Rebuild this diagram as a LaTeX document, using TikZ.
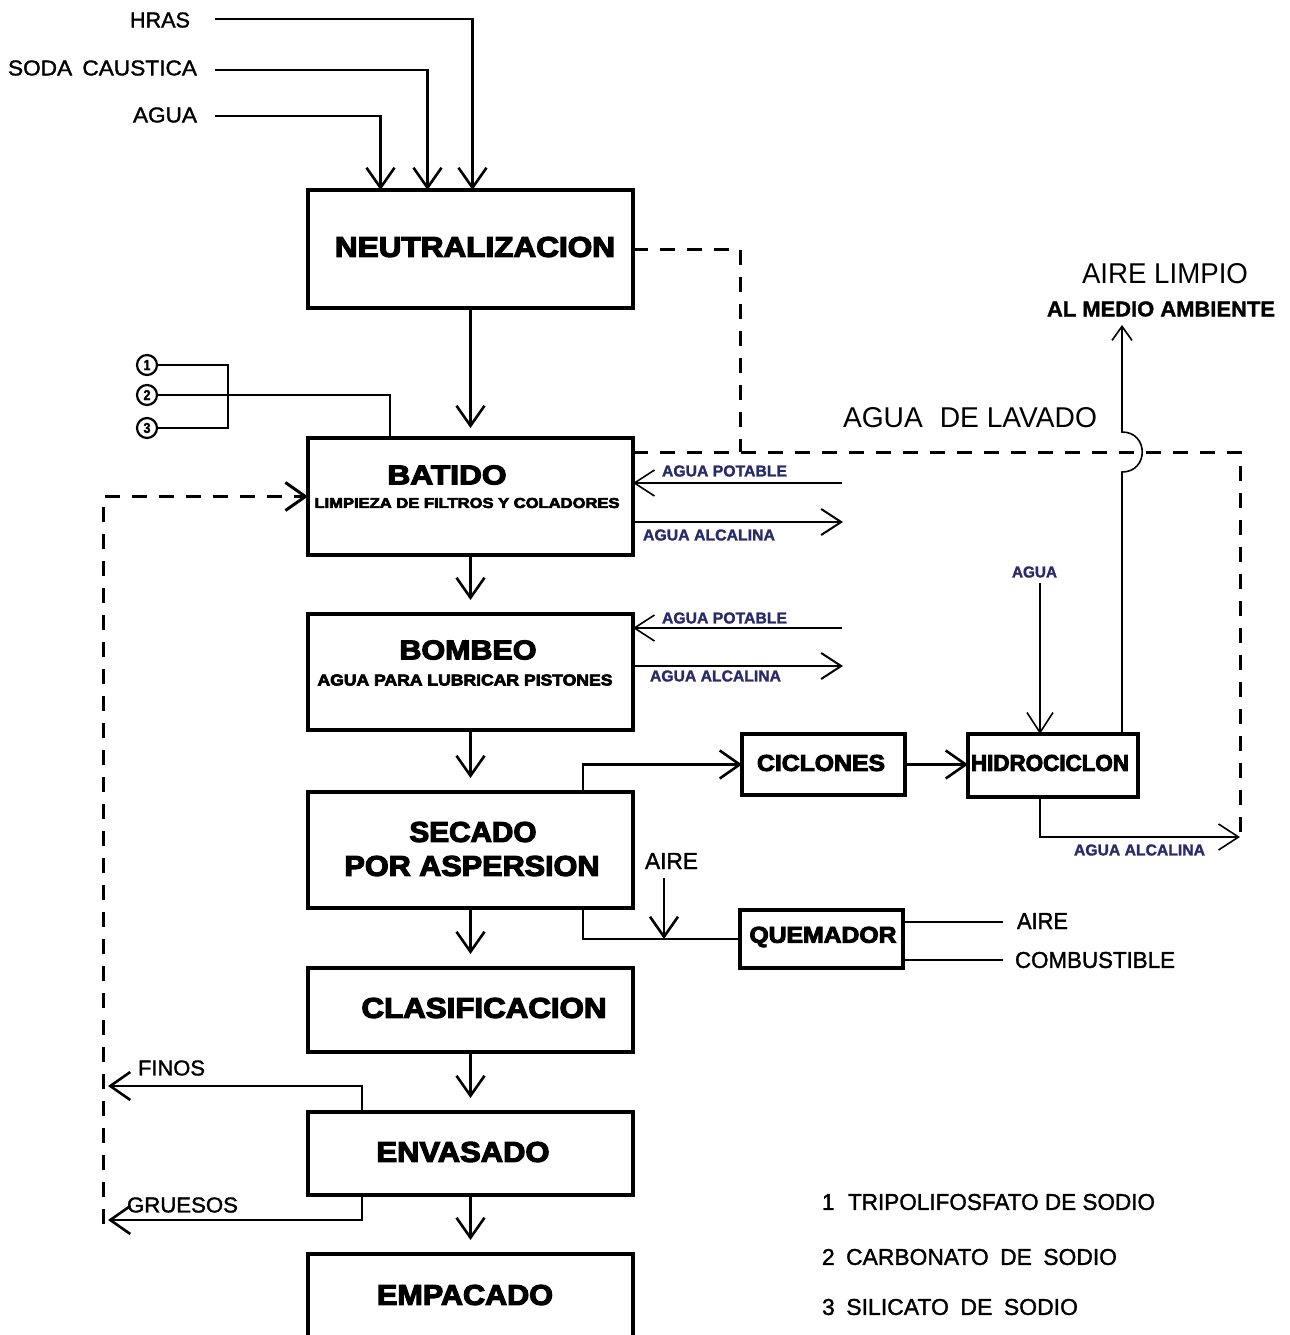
\documentclass[tikz,border=0pt]{standalone}
\usepackage{fontspec}
\setmainfont{Liberation Sans}
\newfontfamily\heavy{Liberation Sans Bold}[FakeBold=4]
\newfontfamily\bsans{Liberation Sans Bold}[FakeBold=1.5]
\newfontfamily\med{Liberation Sans}[FakeBold=1.5]
\usetikzlibrary{arrows.meta,calc}
\definecolor{navy}{RGB}{40,42,105}
\newcommand{\fitpx}[3]{\resizebox{\dimexpr #1pt/2\relax}{\dimexpr #2pt/2\relax}{#3}}
\begin{document}
\begin{tikzpicture}[x=0.5pt,y=-0.5pt,
  box/.style={draw, line width=1.6pt, inner sep=0pt, outer sep=0pt},
  txt/.style={inner sep=0pt, outer sep=0pt},
  lbl/.style={inner sep=0pt, outer sep=0pt, anchor=west},
  nlbl/.style={inner sep=0pt, outer sep=0pt, anchor=west, text=navy},
  link/.style={line width=1.3pt},
  conn/.style={line width=1.3pt, -{Straight Barb[length=10pt,width=14pt]}},
  thinarr/.style={line width=0.8pt, -{Straight Barb[length=10pt,width=13pt]}},
  smallarr/.style={line width=0.8pt, -{Straight Barb[length=7pt,width=10pt]}},
  dsh/.style={line width=1.5pt, dash pattern=on 7.5pt off 6pt},
  numc/.style={circle, draw, line width=1.1pt, minimum size=10pt, inner sep=0pt, outer sep=0pt}]
\useasboundingbox (0,0) rectangle (1290,1335);
\fill[white] (0,0) rectangle (1290,1335);

% ---------- boxes ----------
\node[box, minimum width=162.5pt, minimum height=59pt]   (neu) at (470.5,249) {};
\node[box, minimum width=162.5pt, minimum height=58.5pt] (bat) at (470.5,496.5) {};
\node[box, minimum width=162.5pt, minimum height=58pt]   (bom) at (470.5,672) {};
\node[box, minimum width=162.5pt, minimum height=58pt]   (sec) at (470.5,850) {};
\node[box, minimum width=162.5pt, minimum height=42pt]   (cla) at (470.5,1010) {};
\node[box, minimum width=162.5pt, minimum height=41.5pt] (env) at (470.5,1153.5) {};
\node[box, minimum width=162.5pt, minimum height=48pt]   (emp) at (470.5,1302) {};
\node[box, minimum width=81.5pt, minimum height=30.5pt]  (cic) at (823.5,764.5) {};
\node[box, minimum width=85pt, minimum height=31.5pt]    (hid) at (1053,765.5) {};
\node[box, minimum width=81.5pt, minimum height=29pt]    (que) at (821.5,939) {};

% ---------- box texts ----------
\node[txt] (tneu)  at (475,247)  {\fitpx{280}{20}{\heavy NEUTRALIZACION}};
\node[txt] (tbat)  at (447,475)  {\fitpx{119}{19}{\heavy BATIDO}};
\node[txt] (tbat2) at (467,503)  {\fitpx{305}{10}{\heavy LIMPIEZA DE FILTROS Y COLADORES}};
\node[txt] (tbom)  at (468,650)  {\fitpx{137}{19}{\heavy BOMBEO}};
\node[txt] (tbom2) at (465,680)  {\fitpx{295}{11}{\heavy AGUA PARA LUBRICAR PISTONES}};
\node[txt] (tsec)  at (473,832)  {\fitpx{127}{20}{\heavy SECADO}};
\node[txt] (tsec2) at (472,866)  {\fitpx{255}{20}{\heavy POR ASPERSION}};
\node[txt] (tcla)  at (484,1008) {\fitpx{245}{20}{\heavy CLASIFICACION}};
\node[txt] (tenv)  at (463,1152) {\fitpx{173}{20}{\heavy ENVASADO}};
\node[txt] (temp)  at (465,1295) {\fitpx{176}{20}{\heavy EMPACADO}};
\node[txt] (tcic)  at (821,763)  {\fitpx{128}{16}{\heavy CICLONES}};
\node[txt] (thid)  at (1050,763) {\fitpx{158}{16}{\heavy HIDROCICLON}};
\node[txt] (tque)  at (823,937)  {\fitpx{147}{16}{\heavy QUEMADOR}};

% ---------- labels ----------
\node[lbl] (hras)    at (130,20)   {\fitpx{60}{15}{\med HRAS}};
\node[lbl] (soda)    at (8,68)     {\fitpx{189}{15}{\med SODA\hspace{0.45em}CAUSTICA}};
\node[lbl] (aguatop) at (133,115)  {\fitpx{64}{15}{\med AGUA}};
\node[lbl] (alimp)   at (1082,274) {\fitpx{166}{20}{AIRE LIMPIO}};
\node[lbl] (almed)   at (1047,309) {\fitpx{228}{15}{\bsans AL MEDIO AMBIENTE}};
\node[lbl] (lavado)  at (843,418)  {\fitpx{254}{20}{AGUA\hspace{0.6em}DE LAVADO}};
\node[nlbl] (ap1t)   at (662,471)  {\fitpx{125}{11}{\bsans AGUA POTABLE}};
\node[nlbl] (aa1t)   at (643,535)  {\fitpx{132}{11}{\bsans AGUA ALCALINA}};
\node[nlbl] (ap2t)   at (662,618)  {\fitpx{125}{11}{\bsans AGUA POTABLE}};
\node[nlbl] (aa2t)   at (650,676)  {\fitpx{131}{11}{\bsans AGUA ALCALINA}};
\node[nlbl] (aguah)  at (1012,572) {\fitpx{45}{11}{\bsans AGUA}};
\node[nlbl] (aa3t)   at (1074,850) {\fitpx{131}{11}{\bsans AGUA ALCALINA}};
\node[lbl] (aire1)   at (645,861)  {\fitpx{53}{16}{\med AIRE}};
\node[lbl] (qair)    at (1017,921) {\fitpx{51}{16}{\med AIRE}};
\node[lbl] (qcomb)   at (1015,960) {\fitpx{160}{16}{\med COMBUSTIBLE}};
\node[lbl] (finos)   at (138,1068) {\fitpx{67}{15}{\med FINOS}};
\node[lbl] (gruesos) at (127,1205) {\fitpx{111}{15}{\med GRUESOS}};
\node[lbl] (leg1)    at (822,1202) {\fitpx{333}{16}{\med 1\hspace{0.6em}TRIPOLIFOSFATO DE SODIO}};
\node[lbl] (leg2)    at (822,1257) {\fitpx{295}{16}{\med 2\hspace{0.5em}CARBONATO\hspace{0.5em}DE\hspace{0.5em}SODIO}};
\node[lbl] (leg3)    at (822,1307) {\fitpx{256}{16}{\med 3\hspace{0.5em}SILICATO\hspace{0.5em}DE\hspace{0.5em}SODIO}};

% circled numbers
\node[numc] (c1) at (147,365) {\fitpx{7}{10}{\bsans 1}};
\node[numc] (c2) at (147,395) {\fitpx{7}{10}{\bsans 2}};
\node[numc] (c3) at (147,428) {\fitpx{7}{10}{\bsans 3}};

% ---------- connectors ----------
% top inputs
\draw[conn] ($(hras.east)+(25,-1)$) -| ($(neu.north)+(2,0)$);
\draw[conn] ($(soda.east)+(18,2)$) -| ($(neu.north)+(-43,0)$);
\draw[conn] ($(aguatop.east)+(18,1)$) -| ($(neu.north)+(-90,0)$);

% main chain
\draw[conn, shorten >=5pt] (neu.south) -- (bat.north);
\draw[conn, shorten >=7pt] (bat.south) -- (bom.north);
\draw[conn, shorten >=7pt] (bom.south) -- (sec.north);
\draw[conn, shorten >=7pt] (sec.south) -- (cla.north);
\draw[conn, shorten >=7pt] (cla.south) -- (env.north);
\draw[conn, shorten >=7pt] (env.south) -- (emp.north);

% circled inputs
\draw[link] (c1.east) -| ($(c3.east)+(71,0)$) -- (c3.east);
\draw[link] (c2.east) -| ($(bat.north)+(-80.5,0)$);

% dashed wash water
\coordinate (dj) at (740,452);
\coordinate (aaend) at (1240,837);
\draw[dsh] (neu.east) -| (dj);
\draw[dsh] ($(bat.north east)+(0,14)$) -| (aaend);

% aire limpio with hop
\coordinate (alt) at (1122,325);
\draw[smallarr] ($(hid.north east)+(-16,0)$) -- (1122,472)
   .. controls (1149,472) and (1149,432) .. (1122,432) -- (alt);

% side streams of batido and bombeo
\coordinate (ap1) at (842,483);
\coordinate (aa1) at (843,522);
\coordinate (ap2) at (842,628);
\coordinate (aa2) at (843,666);
\draw[thinarr] (ap1) -- (ap1 -| bat.east);
\draw[thinarr, line width=1pt] (aa1 -| bat.east) -- (aa1);
\draw[thinarr] (ap2) -- (ap2 -| bom.east);
\draw[thinarr, line width=1pt] (aa2 -| bom.east) -- (aa2);

% secado -> ciclones -> hidrociclon
\draw[conn] ($(sec.north)+(112.5,0)$) |- (cic.west);
\draw[conn] (cic.east) -- (cic.east -| hid.west);
\coordinate (hag) at (1040,583);
\draw[thinarr] (hag) -- (hag |- hid.north);
\draw[thinarr] ($(hid.south)+(-13,0)$) |- (aaend);

% quemador
\draw[link] ($(sec.south)+(112.5,0)$) |- (que.west);
\coordinate (airt) at (664,878);
\draw[conn] (airt) -- (airt |- que.west);
\coordinate (qa) at ($(qair.west)+(-14,1)$);
\coordinate (qc) at ($(qcomb.west)+(-12,0)$);
\draw[link] (qa) -- (qa -| que.east);
\draw[link] (qc) -- (qc -| que.east);

% finos / gruesos
\coordinate (ft) at (108,1086);
\coordinate (gt) at (108,1220);
\draw[conn] ($(env.north west)+(54,0)$) |- (ft);
\draw[conn] ($(env.south west)+(54,0)$) |- (gt);

% return to batido
\coordinate (dl) at (103,1224);
\draw[dsh, -{Straight Barb[length=10pt,width=14pt]}] (dl) |- (bat.west);
\end{tikzpicture}
\end{document}
